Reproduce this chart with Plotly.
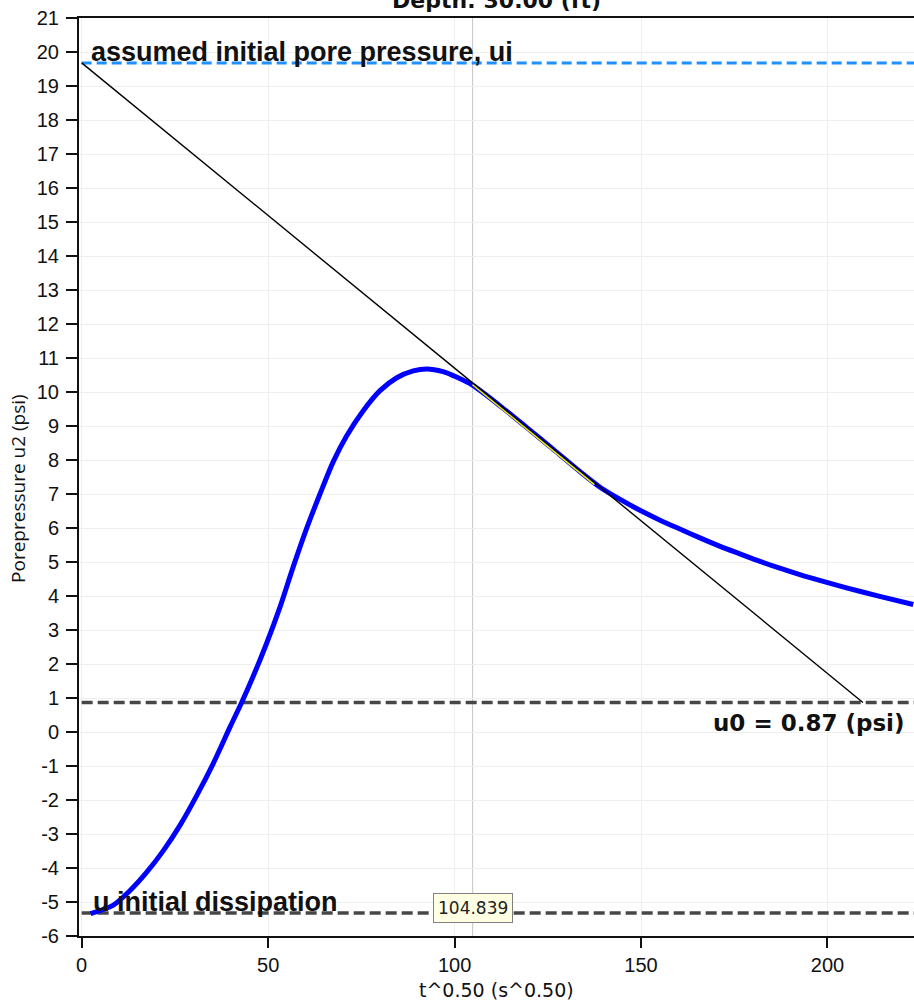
import plotly.graph_objects as go

# Piezocone dissipation record: pore pressure u2 against square-root time
t_sqrt = [2.4, 8.5, 12.9, 17.4, 21.9, 26.4, 30.8, 35.3, 39.8, 42.9, 46.0, 49.6,
          53.2, 56.7, 60.3, 63.9, 67.5, 71.0, 75.5, 80.0, 84.5, 88.9, 92.5,
          96.9, 100.5, 104.8, 112.1, 119.3, 126.4, 133.6, 139.0, 144.4, 149.7,
          155.1, 160.4, 165.8, 171.2, 176.5, 181.9, 187.2, 192.6, 197.9, 205.1,
          214.0, 223.0]
u2 = [-5.34, -5.09, -4.67, -4.13, -3.49, -2.74, -1.88, -0.92, 0.15, 0.87, 1.64,
      2.61, 3.68, 4.85, 5.98, 7.00, 7.96, 8.70, 9.45, 10.04, 10.42, 10.62, 10.68,
      10.60, 10.44, 10.20, 9.60, 8.96, 8.32, 7.66, 7.20, 6.84, 6.52, 6.23, 5.97,
      5.71, 5.46, 5.24, 5.02, 4.82, 4.63, 4.46, 4.24, 3.99, 3.75]

# Tangent through the selected point, extrapolated back to t = 0 (ui) and to u0
tangent_x = [0.0, 209.5]
tangent_y = [19.68, 0.87]

# Portion of the record used for the tangent fit
fit_x = [104.839, 137.5]
fit_y = [10.22, 7.28]

ui = 19.68          # assumed initial pore pressure
u0 = 0.87           # equilibrium pore pressure
u_init = -5.32      # pore pressure at start of dissipation
cursor_t = 104.839  # selected point

x_range = [-0.72, 223.2]
y_range = [-6, 21]
x_ticks = [0, 50, 100, 150, 200]
y_ticks = list(range(-6, 22))
y_tick_text = [str(v) for v in y_ticks]
line_span = [0.0, 240.0]

fig = go.Figure()

fig.add_trace(go.Scatter(x=line_span, y=[ui, ui], mode="lines",
                         line=dict(color="#1e90ff", width=3, dash="10px,5px"),
                         hoverinfo="skip"))
fig.add_trace(go.Scatter(x=line_span, y=[u0, u0], mode="lines",
                         line=dict(color="#474747", width=3.5, dash="11px,5px"),
                         hoverinfo="skip"))
fig.add_trace(go.Scatter(x=line_span, y=[u_init, u_init], mode="lines",
                         line=dict(color="#474747", width=3.5, dash="11px,5px"),
                         hoverinfo="skip"))
fig.add_trace(go.Scatter(x=t_sqrt, y=u2, mode="lines",
                         line=dict(color="#0000ff", width=5, shape="spline",
                                   smoothing=0.8)))
fig.add_trace(go.Scatter(x=fit_x, y=fit_y, mode="lines",
                         line=dict(color="#e8e800", width=2)))
fig.add_trace(go.Scatter(x=tangent_x, y=tangent_y, mode="lines",
                         line=dict(color="#000000", width=1.4)))

fig.add_shape(type="line", xref="x", yref="paper", x0=cursor_t, x1=cursor_t,
              y0=0, y1=1, line=dict(color="#c4c4c4", width=1), layer="below")

bold = "Liberation Sans"
fig.add_annotation(x=2.2, y=ui, xref="x", yref="y", xanchor="left",
                   yanchor="bottom", text="<b>assumed initial pore pressure, ui</b>",
                   showarrow=False, borderpad=0, yshift=-5,
                   font=dict(family=bold, size=27, color="#111111"))
fig.add_annotation(x=2.7, y=u_init, xref="x", yref="y", xanchor="left",
                   yanchor="bottom", text="<b>u initial dissipation</b>",
                   showarrow=False, borderpad=0, yshift=-5,
                   font=dict(family=bold, size=27, color="#111111"))
fig.add_annotation(x=220.8, y=u0, xref="x", yref="y", xanchor="right",
                   yanchor="top", text="<b>u0 = 0.87 (psi)</b>",
                   showarrow=False, borderpad=0, yshift=-7,
                   font=dict(family="DejaVu Sans", size=23, color="#111111"))
fig.add_annotation(x=cursor_t, y=-5.18, xref="x", yref="y", xanchor="center",
                   yanchor="middle", text=f"{cursor_t:.3f}", showarrow=False,
                   bgcolor="#ffffe3", bordercolor="#808080", borderwidth=1,
                   borderpad=4, font=dict(family="DejaVu Sans", size=17,
                                          color="#222222"))

# Axis titles
fig.add_annotation(x=0, y=0.487, xref="paper", yref="paper", xanchor="center",
                   yanchor="middle", xshift=-61, textangle=-90,
                   text="Porepressure u2 (psi)", showarrow=False,
                   font=dict(family="Open Sans", size=19, color="#111111"))
fig.add_annotation(x=0.5, y=0, xref="paper", yref="paper", xanchor="center",
                   yanchor="middle", yshift=-54, text="t^0.50 (s^0.50)",
                   showarrow=False,
                   font=dict(family="DejaVu Sans", size=19, color="#111111"))

fig.update_layout(
    width=914, height=1005,
    margin=dict(l=79, r=0, t=18, b=68.5),
    paper_bgcolor="white", plot_bgcolor="white",
    showlegend=False,
    title=dict(text="<b>Depth: 30.00 (ft)</b>", xref="paper", x=0.5,
               xanchor="center", yref="container", y=1.0, yanchor="middle",
               font=dict(family="DejaVu Sans", size=22, color="#111111")),
    font=dict(family="Liberation Sans", color="#111111"),
)

fig.update_xaxes(range=x_range, tickmode="array", tickvals=x_ticks,
                 ticks="outside", ticklen=10, tickwidth=1.5, tickcolor="#111111",
                 showline=True, linewidth=2, linecolor="#111111", mirror=True,
                 showgrid=True, gridcolor="#efefef", gridwidth=1, zeroline=False,
                 tickfont=dict(family="Liberation Sans", size=20))
fig.update_yaxes(range=y_range, tickmode="array", tickvals=y_ticks,
                 ticktext=y_tick_text,
                 ticks="outside", ticklen=11, tickwidth=1.5, tickcolor="#111111",
                 ticklabelstandoff=3,
                 showline=True, linewidth=2, linecolor="#111111",
                 showgrid=True, gridcolor="#efefef", gridwidth=1, zeroline=False,
                 tickfont=dict(family="Liberation Sans", size=20))

fig.write_html("out.html")
